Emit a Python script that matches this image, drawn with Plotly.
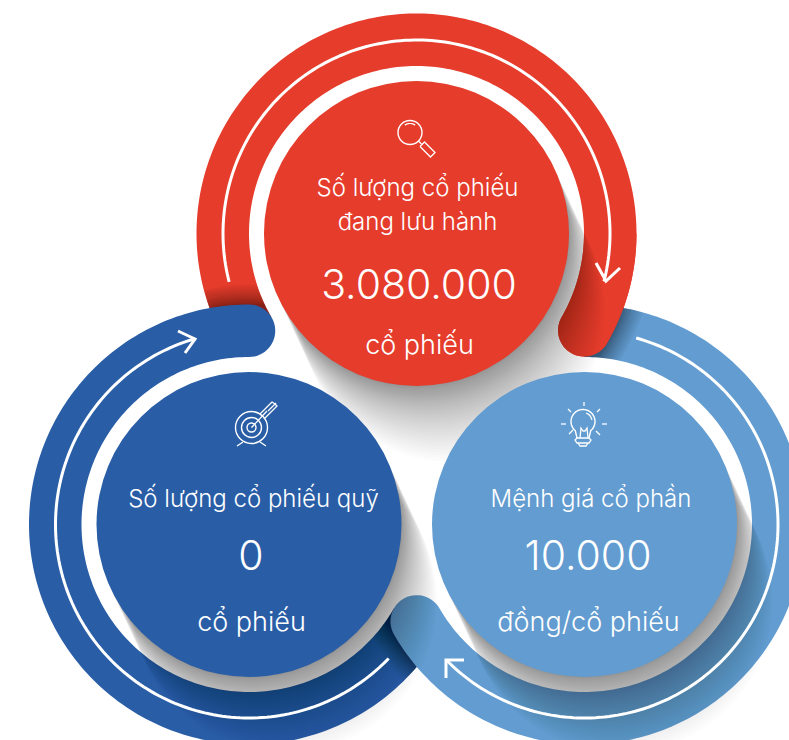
import numpy as np
import plotly.graph_objects as go

# ---- content ----
LABELS = ["Số lượng cổ phiếu", "đang lưu hành", "3.080.000", "cổ phiếu",
          "Số lượng cổ phiếu quỹ", "0", "cổ phiếu",
          "Mệnh giá cổ phần", "10.000", "đồng/cổ phiếu"]
LABEL_X = [417.5, 417.5, 419, 419.5, 253.5, 251, 251.5, 591, 588, 588.5]
LABEL_Y = [189.5, 223.5, 289, 347.5, 500.5, 560, 624.5, 500.5, 560, 624.5]
LABEL_SIZE = [24, 24, 41, 27, 24, 41, 27, 24, 41, 27]

RED, DARK, LIGHT = "#E53C2C", "#295EA7", "#629CD0"
CENTERS = {"red": (416.5, 233.5), "dark": (249, 524.5), "light": (584.5, 524.5)}
COLORS = {"red": RED, "dark": DARK, "light": LIGHT}
RING_START = {"red": 150, "light": 270, "dark": 30}
RING_END = {"red": 390, "light": 510, "dark": 270}
LINE_ARC = {"red": (165.5, 374.3), "light": (285.5, 495.6), "dark": (43.8, 253.8)}
ARROW = {"red": [(596, 263), (606, 281), (620, 268)],
         "light": [(464, 660), (446, 660), (446, 678)],
         "dark": [(178, 331), (195, 339), (185, 353)]}
R_CIRCLE, R_IN, R_OUT, R_LINE = 152.5, 167.5, 220, 193.5
SHADOW_DIR, SHADOW_LEN, SHADOW_N, SHADOW_A = 65, 84, 40, 0.0125

shapes = []


def poly(pts):
    return "M " + " L ".join(f"{x:.2f},{y:.2f}" for x, y in pts) + " Z"


def line_path(pts):
    return "M " + " L ".join(f"{x:.2f},{y:.2f}" for x, y in pts)


def pol(c, r, a):
    t = np.radians(a)
    return (c[0] + r * np.cos(t), c[1] + r * np.sin(t))


def add_fill(path, color):
    shapes.append(dict(type="path", path=path, fillcolor=color, line=dict(width=0),
                       xref="x", yref="y", layer="below"))


def add_circle(c, r, fill=None, stroke=None, w=0):
    shapes.append(dict(type="circle", x0=c[0]-r, x1=c[0]+r, y0=c[1]-r, y1=c[1]+r,
                       fillcolor=fill if fill else "rgba(0,0,0,0)",
                       line=dict(color=stroke if stroke else "rgba(0,0,0,0)", width=w),
                       xref="x", yref="y", layer="below"))


def add_line(pts, w=1.3, color="white"):
    shapes.append(dict(type="path", path=line_path(pts), line=dict(color=color, width=w),
                       xref="x", yref="y", layer="below"))


def ring(name, a0, a1):
    c = CENTERS[name]
    angs = np.linspace(a0, a1, 200)
    pts = [pol(c, R_OUT, a) for a in angs]
    e = pol(c, (R_IN + R_OUT) / 2, a1)
    rc = (R_OUT - R_IN) / 2
    for t in np.linspace(0, 180, 30)[1:-1]:
        pts.append(pol(e, rc, a1 + t))
    pts += [pol(c, R_IN, a) for a in angs[::-1]]
    add_fill(poly(pts), COLORS[name])


def cap_shadow(under, over, a0, a1, steps=14, reach=20, alpha=0.035):
    """Dark band on the ring `under`, next to the edge of the ring `over` lying on it."""
    cu, co = CENTERS[under], CENTERS[over]
    rs = np.linspace(R_IN, R_OUT, 105)
    for k in range(1, steps + 1):
        rad = R_OUT + reach * (k / steps) ** 1.5
        inner, outer = [], []
        for a in np.linspace(a0, a1, 90):
            p = np.array([pol(cu, r, a) for r in rs])
            inside = np.hypot(p[:, 0] - co[0], p[:, 1] - co[1]) <= rad
            if inside.any():
                inner.append(pol(cu, rs[inside][0], a))
                outer.append(pol(cu, rs[inside][-1], a))
        if inner:
            add_fill(poly(inner + outer[::-1]), f"rgba(0,0,0,{alpha})")


def circle_shadow(name):
    c = CENTERS[name]
    d = np.radians(SHADOW_DIR)
    for k in range(1, SHADOW_N + 1):
        t = SHADOW_LEN * (k / SHADOW_N) ** 1.7
        add_circle((c[0] + t * np.cos(d), c[1] + t * np.sin(d)), R_CIRCLE,
                   fill=f"rgba(0,0,0,{SHADOW_A})")


# rings, each lying on the start of the next one
ring("red", RING_START["red"], RING_END["red"])
cap_shadow("red", "dark", 150, 205)
ring("dark", RING_START["dark"], RING_END["dark"])
cap_shadow("dark", "light", 30, 85)
ring("light", RING_START["light"], RING_END["light"])
cap_shadow("light", "red", 270, 325)
ring("red", 360, RING_END["red"])

# shadows of the discs, then the discs
for n in ("red", "dark", "light"):
    circle_shadow(n)
for n in ("red", "dark", "light"):
    add_circle(CENTERS[n], R_CIRCLE, fill=COLORS[n])

# white arrows on the rings
for n in ("red", "dark", "light"):
    a0, a1 = LINE_ARC[n]
    add_line([pol(CENTERS[n], R_LINE, a) for a in np.linspace(a0, a1, 160)], w=3)
    add_line(ARROW[n], w=3)

# magnifier icon
add_circle((410, 132.5), 12, stroke="white", w=1.4)
add_line([pol((410, 132.5), 9, a) for a in np.linspace(235, 305, 12)], w=1.2)
add_line([(418.5, 141), (421.5, 144)])
add_line([(420, 146.5), (424.5, 142), (435, 152.5), (430.5, 157), (420, 146.5)])

# target icon
tc = (251.5, 427.5)
add_circle(tc, 16, stroke="white", w=1.4)
add_circle(tc, 10, stroke="white", w=1.4)
add_circle(tc, 4.5, stroke="white", w=1.4)
add_line([tc, (267, 411)])
add_line([(260, 414), (268, 406), (272, 402), (275, 404), (277, 406), (272, 411), (264, 419)])
add_line([(268, 411), (276, 403)])
add_line([(243, 442), (237, 446)])
add_line([(260, 442), (266, 446)])

# bulb icon
bc = (583, 421.5)
add_line([pol(bc, 12, a) for a in np.linspace(130, 410, 50)] +
         [(589, 438), (577, 438)] + [pol(bc, 12, 130)], w=1.4)
add_line([pol(bc, 9, a) for a in np.linspace(290, 350, 10)])
add_line([(580, 438), (581, 428), (583, 431), (585, 431), (587, 428), (588, 438)])
add_line([(577, 438), (575, 440), (577, 443), (589, 443), (591, 440), (589, 438)])
add_line([(578, 443), (580, 446), (586, 446), (588, 443)])
for p, q in [((584, 402), (584, 406)), ((568, 409), (571, 412)), ((600, 409), (597, 412)),
             ((561, 424), (566, 424)), ((602, 424), (607, 424)),
             ((569, 434), (573, 430)), ((600, 435), (596, 431))]:
    add_line([p, q])

fig = go.Figure(go.Scatter(
    x=LABEL_X, y=LABEL_Y, text=LABELS, mode="text", textposition="middle center",
    textfont=dict(family="Inter", size=LABEL_SIZE, color="white", weight=300),
    hoverinfo="skip", cliponaxis=False, showlegend=False))
fig.update_layout(
    width=789, height=740, margin=dict(l=0, r=0, t=0, b=0),
    paper_bgcolor="white", plot_bgcolor="white", shapes=shapes,
    xaxis=dict(range=[0, 789], visible=False, fixedrange=True),
    yaxis=dict(range=[740, 0], visible=False, fixedrange=True),
)
fig.write_html("out.html", config=dict(displayModeBar=False),
               post_script="document.body.style.margin='0';document.body.style.overflow='hidden';")
